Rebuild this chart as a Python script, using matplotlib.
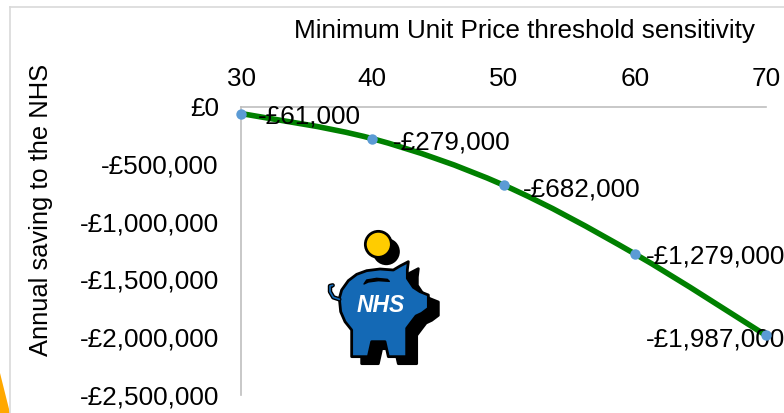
import numpy as np
import matplotlib
matplotlib.use("Agg")
import matplotlib.pyplot as plt
from matplotlib.path import Path
from matplotlib.patches import PathPatch, Polygon, Circle
from matplotlib.ticker import FuncFormatter

plt.rcParams['font.family'] = ['Liberation Sans', 'DejaVu Sans']

thresholds = [30, 40, 50, 60, 70]
savings = [-61000, -279000, -682000, -1279000, -1987000]
yticks = [0, -500000, -1000000, -1500000, -2000000, -2500000]

title = "Minimum Unit Price threshold sensitivity"
ylabel = "Annual saving to the NHS"


def money(v, pos=None):
    if v < 0:
        return "-£{:,.0f}".format(-v)
    return "£{:,.0f}".format(v)


def smooth_path(xs, ys):
    # same kind of smoothed line excel draws (catmull-rom as beziers)
    xs = np.array(xs, dtype=float)
    ys = np.array(ys, dtype=float)
    verts = [(xs[0], ys[0])]
    codes = [Path.MOVETO]
    n = len(xs)
    for i in range(n - 1):
        a = max(i - 1, 0)
        d = min(i + 2, n - 1)
        c1 = (xs[i] + (xs[i + 1] - xs[a]) / 6, ys[i] + (ys[i + 1] - ys[a]) / 6)
        c2 = (xs[i + 1] - (xs[d] - xs[i]) / 6, ys[i + 1] - (ys[d] - ys[i]) / 6)
        verts += [c1, c2, (xs[i + 1], ys[i + 1])]
        codes += [Path.CURVE4, Path.CURVE4, Path.CURVE4]
    return Path(verts, codes)


W, H = 784, 413
fig = plt.figure(figsize=(W / 100, H / 100), dpi=100)

# overlay in pixel coords for the slide bits (frame, corner, piggy)
bg = fig.add_axes([0, 0, 1, 1])
bg.set_xlim(0, W)
bg.set_ylim(H, 0)
bg.axis("off")
bg.plot([10.5, 10.5], [7, H], color="#D9D9D9", lw=1.2)
bg.plot([10.5, W], [7, 7], color="#D9D9D9", lw=1.2)
bg.add_patch(Polygon([(0, 373), (10, H), (0, H)], color="#FFA800", lw=0))

# chart
left, right, top, bottom = 241, 766, 106.5, 394.5
ax = fig.add_axes([left / W, 1 - bottom / H, (right - left) / W, (bottom - top) / H])
ax.patch.set_alpha(0)
ax.set_xlim(30, 70)
ax.set_ylim(-2500000, 0)
ax.xaxis.tick_top()
ax.set_xticks(thresholds)
ax.set_yticks(yticks)
ax.yaxis.set_major_formatter(FuncFormatter(money))
ax.tick_params(length=0, labelsize=18.8, colors="black")
ax.tick_params(axis="x", pad=11.5)
ax.tick_params(axis="y", pad=16)
for s in ["right", "bottom"]:
    ax.spines[s].set_visible(False)
for s in ["left", "top"]:
    ax.spines[s].set_color("#BFBFBF")
    ax.spines[s].set_linewidth(1.2)

ax.add_patch(PathPatch(smooth_path(thresholds, savings), fill=False, edgecolor="#008000",
                       lw=4, clip_on=False, capstyle="butt", zorder=3))
ax.plot(thresholds, savings, "o", color="#5B9BD5", ms=7.5, mew=0, clip_on=False, zorder=6)

label_offsets = [(12.5, -2), (15, -2.5), (14, -3), (8, -2), (-86.4, -3)]
for x, y, off in zip(thresholds, savings, label_offsets):
    ax.annotate(money(y), (x, y), xytext=off, textcoords="offset points", fontsize=18.8,
                va="center", ha="left", annotation_clip=False, zorder=5)

bg2 = fig.add_axes([0, 0, 1, 1])
bg2.set_xlim(0, W)
bg2.set_ylim(H, 0)
bg2.axis("off")
bg2.patch.set_alpha(0)
bg2.text(525, 31, title, fontsize=18.8, ha="center", va="center")
bg2.text(41, 210, ylabel, fontsize=18.4, ha="center", va="center", rotation=90)


# piggy bank, outline
def pig(x, y):
    return (300 + x / 3, 210 + y / 3)


body = [(118, 265), (125, 240), (145, 212), (170, 193), (200, 182), (240, 177), (280, 180),
        (300, 168), (325, 155), (322, 180), (322, 205), (340, 232), (360, 245), (385, 255),
        (385, 295), (365, 310), (348, 318), (335, 335), (320, 355), (320, 440), (265, 440),
        (255, 395), (215, 395), (205, 440), (155, 440), (155, 360), (135, 335), (122, 305)]
body_px = [pig(*p) for p in body]
shadow_px = [(x + 10, y + 7) for x, y in body_px]
bg2.add_patch(Polygon(shadow_px, fc="black", ec="black", lw=2, joinstyle="round"))
bg2.add_patch(Circle((pig(238, 110)[0] + 7, pig(238, 110)[1] + 5), 13.5, fc="black", ec="black", lw=0))
bg2.add_patch(Circle(pig(235, 103), 13, fc="#FFCC00", ec="black", lw=2))
tail = [pig(118, 268), pig(100, 262), pig(90, 245), pig(90, 228), pig(98, 226)]
bg2.plot(*zip(*tail), color="black", lw=3.2, solid_capstyle="round")
bg2.plot(*zip(*tail), color="#1469B5", lw=1.2, solid_capstyle="round")
bg2.add_patch(Polygon(body_px, fc="#1469B5", ec="black", lw=2, joinstyle="round"))
slot = [pig(192, 222), pig(200, 210), pig(230, 205), pig(262, 208), pig(268, 214),
        pig(235, 212), pig(205, 216)]
bg2.add_patch(Polygon(slot, fc="black", ec="black", lw=1, joinstyle="round"))
bg2.text(*pig(241, 287), "NHS", color="white", fontsize=16.5, fontweight="bold", fontstyle="italic",
         ha="center", va="center")

fig.savefig("out.png", dpi=100)
